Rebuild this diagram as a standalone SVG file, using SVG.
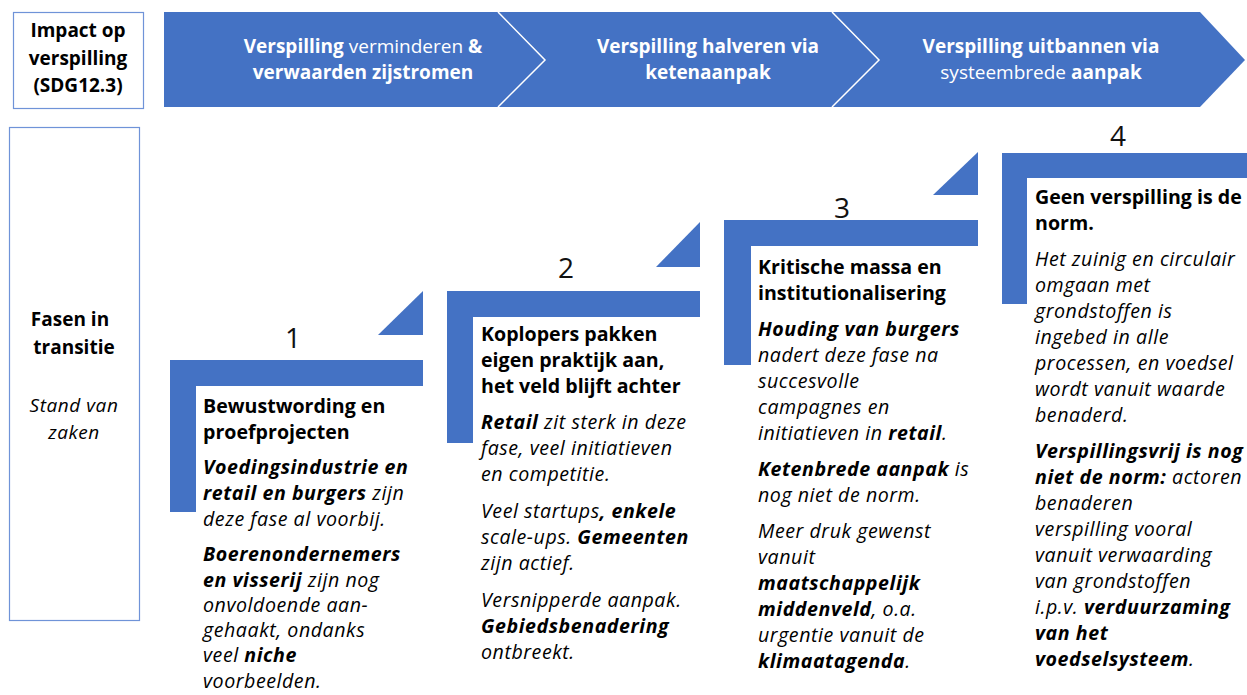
<svg xmlns="http://www.w3.org/2000/svg" width="1247" height="695" viewBox="0 0 1247 695">
<style>
.t{font-family:"Open Sans","Liberation Sans",sans-serif;font-size:19px;fill:#000}
.s{font-size:19.6px}
.c{text-anchor:middle}
.w{fill:#fff}
.b{font-weight:bold}
.i{font-style:italic;letter-spacing:0.55px}
.n{font-family:"Open Sans","Liberation Sans",sans-serif;font-size:28px;fill:#111;text-anchor:middle}
.blue{fill:#4472C4}
.box{fill:#fff;stroke:#6f93d8;stroke-width:1.2}
.sep{fill:none;stroke:#fff;stroke-width:1.5}
</style>
<rect width="1247" height="695" fill="#fff"/>

<g id="impact-label">
<rect class="box" x="13.5" y="12.5" width="130" height="96"/>
<text class="t c b" x="78" y="37">Impact op</text>
<text class="t c b" x="78" y="65">verspilling</text>
<text class="t c b" x="78" y="92">(SDG12.3)</text>
</g>

<g id="chevrons">
<polygon class="blue" points="164,12 1200,12 1245,60 1200,107 164,107"/>
<polyline class="sep" points="498,12 545,60 498,107"/>
<polyline class="sep" points="832,12 879,60 832,107"/>
<text class="t c w" x="363" y="53"><tspan class="b">Verspilling</tspan> verminderen <tspan class="b">&amp;</tspan></text>
<text class="t c w b" x="363" y="79">verwaarden zijstromen</text>
<text class="t c w b" x="708" y="53">Verspilling halveren via</text>
<text class="t c w b" x="708" y="79">ketenaanpak</text>
<text class="t c w b" x="1041" y="53">Verspilling uitbannen via</text>
<text class="t c w" x="1041" y="79">systeembrede <tspan class="b">aanpak</tspan></text>
</g>

<g id="phases-label">
<rect class="box" x="9.5" y="127.5" width="130" height="493"/>
<text class="t c b" x="70" y="326">Fasen in</text>
<text class="t c b" x="74" y="354">transitie</text>
<text class="t c i" x="74" y="412">Stand van</text>
<text class="t c i" x="74" y="439">zaken</text>
</g>

<g id="connectors">
<polygon class="blue" points="378,335 423,291 423,335"/>
<polygon class="blue" points="656,267 700,222 700,267"/>
<polygon class="blue" points="933,195 978,152 978,195"/>
</g>

<g id="step1">
<path class="blue" d="M170,360 H423 V386 H196 V512 H170 Z"/>
<text class="n" x="293" y="348">1</text>
<text class="t s b" x="203" y="413">Bewustwording en</text>
<text class="t s b" x="203" y="439">proefprojecten</text>
<text class="t s i" x="203" y="474"><tspan class="b">Voedingsindustrie en</tspan></text>
<text class="t s i" x="203" y="500"><tspan class="b">retail en burgers</tspan> zijn</text>
<text class="t s i" x="203" y="526">deze fase al voorbij.</text>
<text class="t s i" x="203" y="561"><tspan class="b">Boerenondernemers</tspan></text>
<text class="t s i" x="203" y="587"><tspan class="b">en visserij</tspan> zijn nog</text>
<text class="t s i" x="203" y="612">onvoldoende aan-</text>
<text class="t s i" x="203" y="637">gehaakt, ondanks</text>
<text class="t s i" x="203" y="662">veel <tspan class="b">niche</tspan></text>
<text class="t s i" x="203" y="688">voorbeelden.</text>
</g>

<g id="step2">
<path class="blue" d="M447,291 H700 V317 H473 V443 H447 Z"/>
<text class="n" x="566" y="278">2</text>
<text class="t s b" x="481" y="341">Koplopers pakken</text>
<text class="t s b" x="481" y="367">eigen praktijk aan,</text>
<text class="t s b" x="481" y="393">het veld blijft achter</text>
<text class="t s i" x="481" y="429"><tspan class="b">Retail</tspan> zit sterk in deze</text>
<text class="t s i" x="481" y="455">fase, veel initiatieven</text>
<text class="t s i" x="481" y="481">en competitie.</text>
<text class="t s i" x="481" y="518">Veel startups<tspan class="b">, enkele</tspan></text>
<text class="t s i" x="481" y="544">scale-ups. <tspan class="b">Gemeenten</tspan></text>
<text class="t s i" x="481" y="570">zijn actief.</text>
<text class="t s i" x="481" y="607">Versnipperde aanpak.</text>
<text class="t s i b" x="481" y="633">Gebiedsbenadering</text>
<text class="t s i" x="481" y="659">ontbreekt.</text>
</g>

<g id="step3">
<path class="blue" d="M724,220 H978 V246 H751 V365 H724 Z"/>
<text class="n" x="842" y="218">3</text>
<text class="t s b" x="758" y="274">Kritische massa en</text>
<text class="t s b" x="758" y="300">institutionalisering</text>
<text class="t s i b" x="758" y="336">Houding van burgers</text>
<text class="t s i" x="758" y="362">nadert deze fase na</text>
<text class="t s i" x="758" y="388">succesvolle</text>
<text class="t s i" x="758" y="414">campagnes en</text>
<text class="t s i" x="758" y="440">initiatieven in <tspan class="b">retail</tspan>.</text>
<text class="t s i" x="758" y="476"><tspan class="b">Ketenbrede aanpak</tspan> is</text>
<text class="t s i" x="758" y="502">nog niet de norm.</text>
<text class="t s i" x="758" y="538">Meer druk gewenst</text>
<text class="t s i" x="758" y="564">vanuit</text>
<text class="t s i b" x="758" y="590">maatschappelijk</text>
<text class="t s i" x="758" y="616"><tspan class="b">middenveld</tspan>, o.a.</text>
<text class="t s i" x="758" y="642">urgentie vanuit de</text>
<text class="t s i" x="758" y="668"><tspan class="b">klimaatagenda</tspan>.</text>
</g>

<g id="step4">
<path class="blue" d="M1002,153 H1247 V178 H1027 V304 H1002 Z"/>
<text class="n" x="1118" y="146">4</text>
<text class="t s b" x="1035" y="204">Geen verspilling is de</text>
<text class="t s b" x="1035" y="230">norm.</text>
<text class="t s i" x="1035" y="266">Het zuinig en circulair</text>
<text class="t s i" x="1035" y="292">omgaan met</text>
<text class="t s i" x="1035" y="318">grondstoffen is</text>
<text class="t s i" x="1035" y="344">ingebed in alle</text>
<text class="t s i" x="1035" y="370">processen, en voedsel</text>
<text class="t s i" x="1035" y="396">wordt vanuit waarde</text>
<text class="t s i" x="1035" y="422">benaderd.</text>
<text class="t s i b" x="1035" y="458">Verspillingsvrij is nog</text>
<text class="t s i" x="1035" y="484"><tspan class="b">niet de norm:</tspan> actoren</text>
<text class="t s i" x="1035" y="510">benaderen</text>
<text class="t s i" x="1035" y="536">verspilling vooral</text>
<text class="t s i" x="1035" y="562">vanuit verwaarding</text>
<text class="t s i" x="1035" y="588">van grondstoffen</text>
<text class="t s i" x="1035" y="614">i.p.v.  <tspan class="b">verduurzaming</tspan></text>
<text class="t s i b" x="1035" y="640">van het</text>
<text class="t s i" x="1035" y="666"><tspan class="b">voedselsysteem</tspan>.</text>
</g>
</svg>
